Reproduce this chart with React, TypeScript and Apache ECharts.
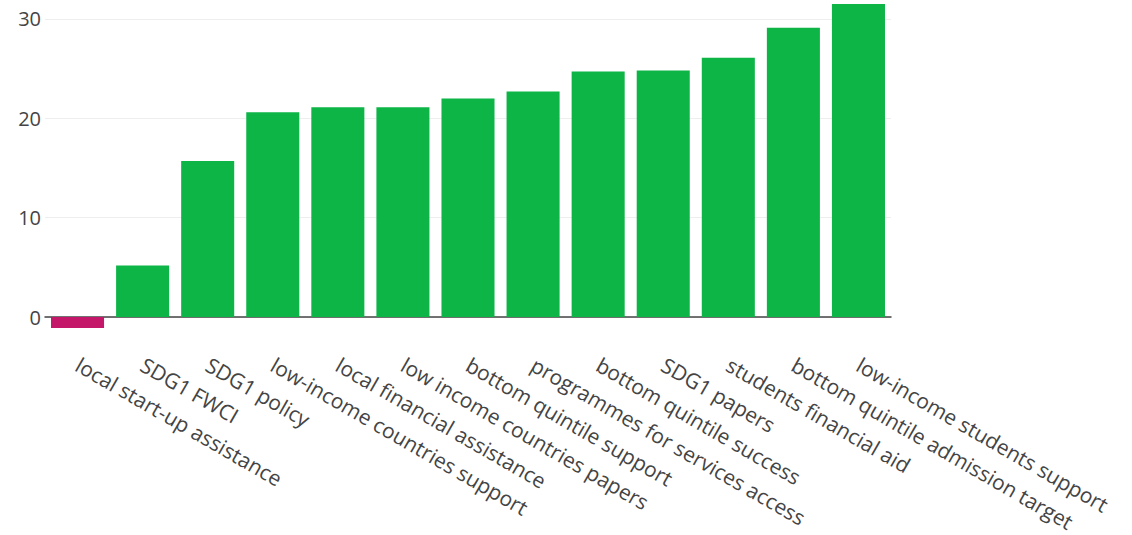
import React, { useEffect, useRef } from "react";
import * as echarts from "echarts";

const categories = [
  "local start-up assistance",
  "SDG1 FWCI",
  "SDG1 policy",
  "low-income countries support",
  "local financial assistance",
  "low income countries papers",
  "bottom quintile support",
  "programmes for services access",
  "bottom quintile success",
  "SDG1 papers",
  "students financial aid",
  "bottom quintile admission target",
  "low-income students support",
];
const values = [-1.1, 5.2, 15.7, 20.6, 21.1, 21.1, 22.0, 22.7, 24.7, 24.8, 26.1, 29.1, 31.5];
const yTicks = [0, 10, 20, 30];

const POS = "#0db446";
const NEG = "#c5176a";

export default function App() {
  const ref = useRef<HTMLDivElement>(null);
  useEffect(() => {
    document.body.style.margin = "0";
    const chart = echarts.init(ref.current!, null, { renderer: "svg" });
    chart.setOption({
      animation: false,
      backgroundColor: "#ffffff",
      grid: {
        left: 45,
        right: 1132 - 891,
        top: 4,
        bottom: 535 - 332,
        containLabel: false,
        outerBoundsMode: "none",
      },
      xAxis: {
        type: "category",
        data: categories,
        axisLine: { onZero: true, lineStyle: { color: "#444", width: 1.5 } },
        axisTick: { show: false },
        axisLabel: {
          interval: 0,
          rotate: -30,
          margin: 31,
          color: "#444",
          fontFamily: "Open Sans",
          fontSize: 21,
        },
      },
      yAxis: {
        type: "value",
        min: -1.5,
        max: 31.5,
        axisLine: { show: false },
        axisTick: { show: false, customValues: yTicks },
        axisLabel: {
          customValues: yTicks,
          color: "#444",
          fontFamily: "Open Sans",
          fontSize: 20,
          margin: 4,
        },
        splitLine: { show: true, lineStyle: { color: "#eeeeee", width: 1 } },
      },
      series: [
        {
          type: "bar",
          data: values.map((v) => ({ value: v, itemStyle: { color: v < 0 ? NEG : POS } })),
          barCategoryGap: "18.5%",
        },
      ],
    });
    return () => chart.dispose();
  }, []);
  return <div ref={ref} style={{ width: 1132, height: 535 }} />;
}
